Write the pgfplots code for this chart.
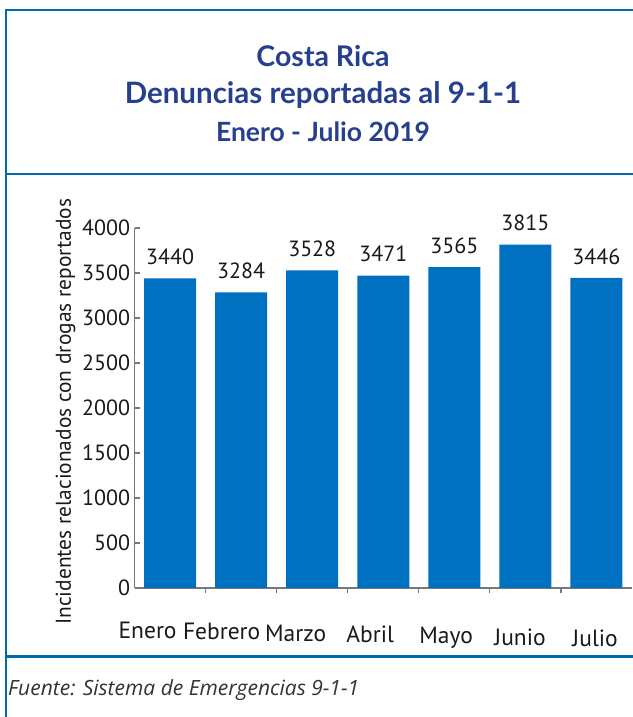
\documentclass[border=0pt]{standalone}
\usepackage{fontspec}
\setmainfont{PT Sans}
\newfontfamily\titlefont{Lato}
\newfontfamily\footfont{Open Sans}
\usepackage{pgfplots}
\pgfplotsset{compat=1.18}
\definecolor{barblue}{RGB}{0,112,192}
\definecolor{frameblue}{RGB}{0,104,172}
\definecolor{titleblue}{RGB}{38,64,142}
\definecolor{axisgray}{RGB}{120,120,120}
\begin{document}
\begin{tikzpicture}[x=1pt,y=1pt]
\path[use as bounding box] (0,0) rectangle (632,717);
% frame
\draw[frameblue, line width=2.2pt] (6,-2) -- (6,707) -- (640,707);
\draw[frameblue, line width=2.2pt] (6,543) -- (640,543);
\draw[frameblue, line width=3pt] (6,60) -- (640,60);
% titles
\node[titleblue, font=\titlefont\bfseries\fontsize{28.5}{32}\selectfont] at (323,661) {Costa Rica};
\node[titleblue, font=\titlefont\bfseries\fontsize{29.5}{34}\selectfont] at (323,622) {Denuncias reportadas al 9-1-1};
\node[titleblue, font=\titlefont\bfseries\fontsize{26.5}{30}\selectfont] at (323,585) {Enero - Julio 2019};
% footer
\node[anchor=west, text=black!80, font=\footfont\itshape\fontsize{21}{25}\selectfont, inner sep=0pt] at (8,27) {Fuente: Sistema de Emergencias 9-1-1};
\begin{axis}[
  scale only axis, width=497.4pt, height=360pt,
  at={(134.6pt,129pt)}, anchor=south west,
  xmin=-0.5, xmax=6.5, ymin=0, ymax=4000,
  axis x line=bottom, axis y line=left,
  axis line style={-, draw=axisgray, line width=1.3pt},
  ytick={0,500,...,4000},
  tick align=inside, major tick length=5pt,
  tick style={draw=axisgray, line width=1.2pt},
  xtick={0.5,1.5,...,5.5}, xticklabels={},
  extra x ticks={-0.317,0.725,1.766,2.815,3.884,4.925,5.981},
  extra x tick labels={Enero,\raisebox{-1pt}{Febrero},\raisebox{-3pt}{Marzo},\raisebox{-4pt}{Abril},\raisebox{-5pt}{Mayo},\raisebox{-7pt}{Junio},\raisebox{-8pt}{Julio}},
  extra x tick style={major tick length=0pt, xticklabel style={anchor=base, yshift=-50pt, font=\fontsize{23.5}{28}\selectfont}},
  ticklabel style={font=\fontsize{22}{26}\selectfont, text=black!90},
  yticklabel style={xshift=-1pt},
  /pgf/number format/1000 sep={},
  /pgf/number format/assume math mode=true,
  ylabel={Incidentes relacionados con drogas reportados},
  every axis y label/.style={at={(axis description cs:-0.139,0.49)}, rotate=90, anchor=center, font=\fontsize{21.4}{26}\selectfont, text=black!90},
  ybar, bar width=52pt, bar shift=0pt,
  nodes near coords,
  nodes near coords style={font=\fontsize{22}{26}\selectfont, text=black!90, yshift=10pt, /pgf/number format/1000 sep={}, /pgf/number format/assume math mode=true},
  clip=false,
]
\addplot[fill=barblue, draw=none] coordinates {(0,3440) (1,3284) (2,3528) (3,3471) (4,3565) (5,3815) (6,3446)};
\end{axis}
\end{tikzpicture}
\end{document}
